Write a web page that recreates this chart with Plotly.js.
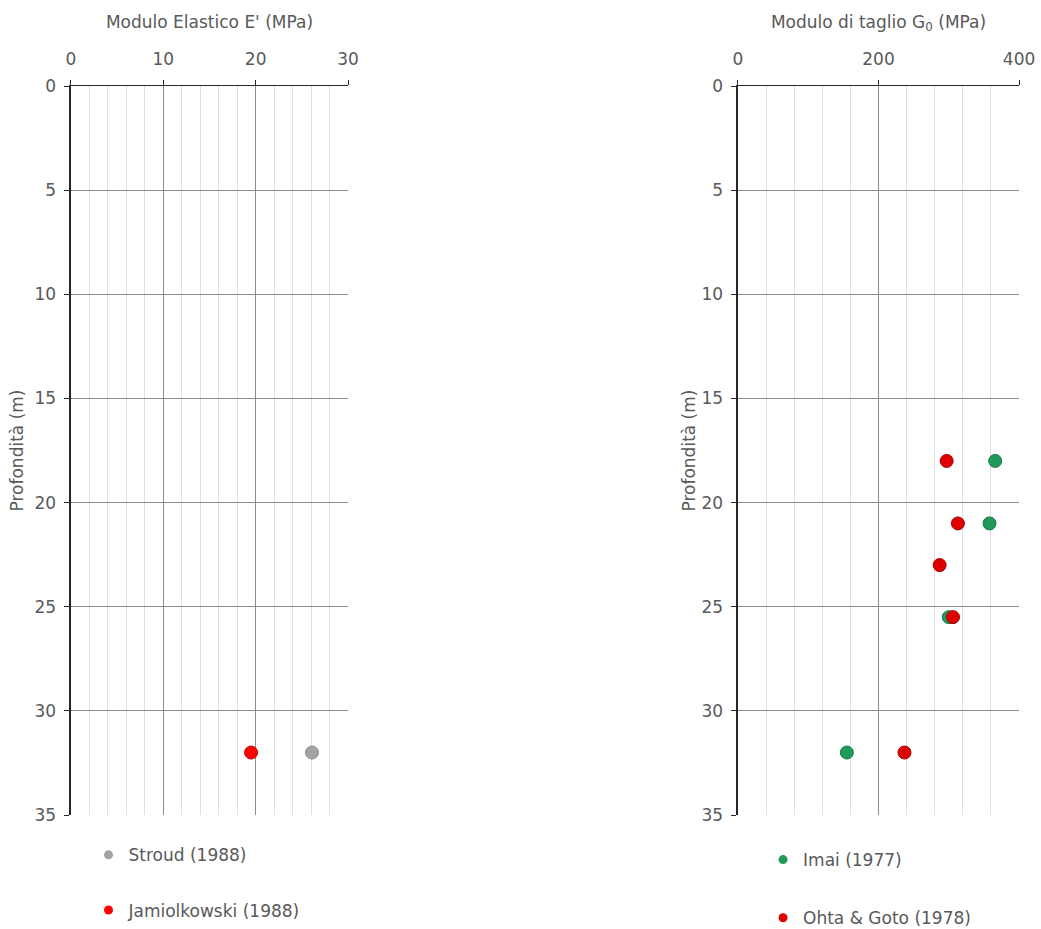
<!DOCTYPE html>
<html>
<head>
<meta charset="utf-8">
<script src="https://cdn.plot.ly/plotly-3.0.1.min.js"></script>
<style>html,body{margin:0;padding:0;background:#fff;}#chart{width:1041px;height:929px;}</style>
</head>
<body>
<div id="chart"></div>
<script>
// Left chart: Modulo Elastico E' (MPa)
const stroudE = [26.1];
const stroudDepth = [32];
const jamiolkowskiE = [19.5];
const jamiolkowskiDepth = [32];

// Right chart: Modulo di taglio G0 (MPa)
const imaiG0 = [366, 358, 300, 155];
const imaiDepth = [18, 21, 25.5, 32];
const ohtaG0 = [297, 313, 287, 306, 237];
const ohtaDepth = [18, 21, 23, 25.5, 32];

const seriesNames = ['Stroud (1988)', 'Jamiolkowski (1988)', 'Imai (1977)', 'Ohta & Goto (1978)'];
const leftTitle = "Modulo Elastico E' (MPa)";
const rightTitle = 'Modulo di taglio G<sub>0</sub> (MPa)';
const depthTitle = 'Profondità (m)';

const FONT = 'DejaVu Sans';
const FS = 17;
const TXT = '#595959';
const colGray = '#a3a3a3', colRed = '#ff0000', colGreen = '#1f9a5a', colRed2 = '#e00000';

function pts(x, y, color, line, xa, ya) {
  return {x: x, y: y, xaxis: xa, yaxis: ya, type: 'scatter', mode: 'markers', showlegend: false,
    marker: {size: 13, color: color, line: {color: line, width: 1}}, hoverinfo: 'x+y'};
}
function leg(name, color, legend, group) {
  return {x: [null], y: [null], xaxis: legend === 'legend' ? 'x' : 'x2', yaxis: legend === 'legend' ? 'y' : 'y2',
    type: 'scatter', mode: 'markers', name: name, legend: legend, legendgroup: group,
    marker: {size: 9, color: color}};
}

const traces = [
  pts(stroudE, stroudDepth, colGray, '#8a8a8a', 'x', 'y'),
  pts(jamiolkowskiE, jamiolkowskiDepth, colRed, '#c00000', 'x', 'y'),
  pts(imaiG0, imaiDepth, colGreen, '#157a45', 'x2', 'y2'),
  pts(ohtaG0, ohtaDepth, colRed2, '#a00000', 'x2', 'y2'),
  leg(seriesNames[0], colGray, 'legend', 'a'),
  leg(seriesNames[1], colRed, 'legend', 'b'),
  leg(seriesNames[2], colGreen, 'legend2', 'c'),
  leg(seriesNames[3], colRed2, 'legend2', 'd')
];

function xax(domain, range, dtick, minorDtick, title) {
  return {domain: domain, range: range, dtick: dtick, tick0: 0, side: 'top', anchor: domain[0] < 0.5 ? 'y' : 'y2',
    showgrid: true, gridcolor: '#8c8c8c', gridwidth: 1, zeroline: false,
    minor: {dtick: minorDtick, tick0: 0, showgrid: true, gridcolor: '#e0e0e0', gridwidth: 1},
    showline: true, linecolor: '#262626', linewidth: 1.5, mirror: false,
    ticks: 'outside', ticklen: 5, tickcolor: '#262626', tickwidth: 1, ticklabelstandoff: 8,
    tickfont: {family: FONT, size: FS, color: TXT},
    title: {text: title, font: {family: FONT, size: FS, color: TXT}, standoff: 16}};
}
function yax(anchor, standoff) {
  return {domain: [0.1227, 0.9074], range: [35, 0], dtick: 5, tick0: 0, anchor: anchor,
    showgrid: true, gridcolor: '#8c8c8c', gridwidth: 1, zeroline: false,
    showline: true, linecolor: '#262626', linewidth: 1.5,
    ticks: 'outside', ticklen: 5, tickcolor: '#262626', ticklabelstandoff: 5,
    tickfont: {family: FONT, size: FS, color: TXT},
    title: {text: depthTitle, font: {family: FONT, size: FS, color: TXT}, standoff: standoff}};
}

const layout = {
  width: 1041, height: 929,
  margin: {l: 0, r: 0, t: 0, b: 0, autoexpand: false},
  paper_bgcolor: '#ffffff', plot_bgcolor: '#ffffff',
  font: {family: FONT, color: TXT},
  xaxis: xax([0.0682, 0.3343], [0, 30], 10, 2, leftTitle),
  yaxis: yax('x', 6),
  xaxis2: xax([0.7089, 0.9789], [0, 400], 200, 40, rightTitle),
  yaxis2: yax('x2', 1),
  legend: {x: 0.085, y: 0.0987, xanchor: 'left', yanchor: 'top', orientation: 'v',
    traceorder: 'grouped', tracegroupgap: 30, itemwidth: 30, bgcolor: 'rgba(0,0,0,0)',
    font: {family: FONT, size: FS, color: TXT}},
  legend2: {x: 0.733, y: 0.0936, xanchor: 'left', yanchor: 'top', orientation: 'v',
    traceorder: 'grouped', tracegroupgap: 33, itemwidth: 30, bgcolor: 'rgba(0,0,0,0)',
    font: {family: FONT, size: FS, color: TXT}},
  showlegend: true
};

Plotly.newPlot('chart', traces, layout, {displayModeBar: false, staticPlot: true});
</script>
</body>
</html>
